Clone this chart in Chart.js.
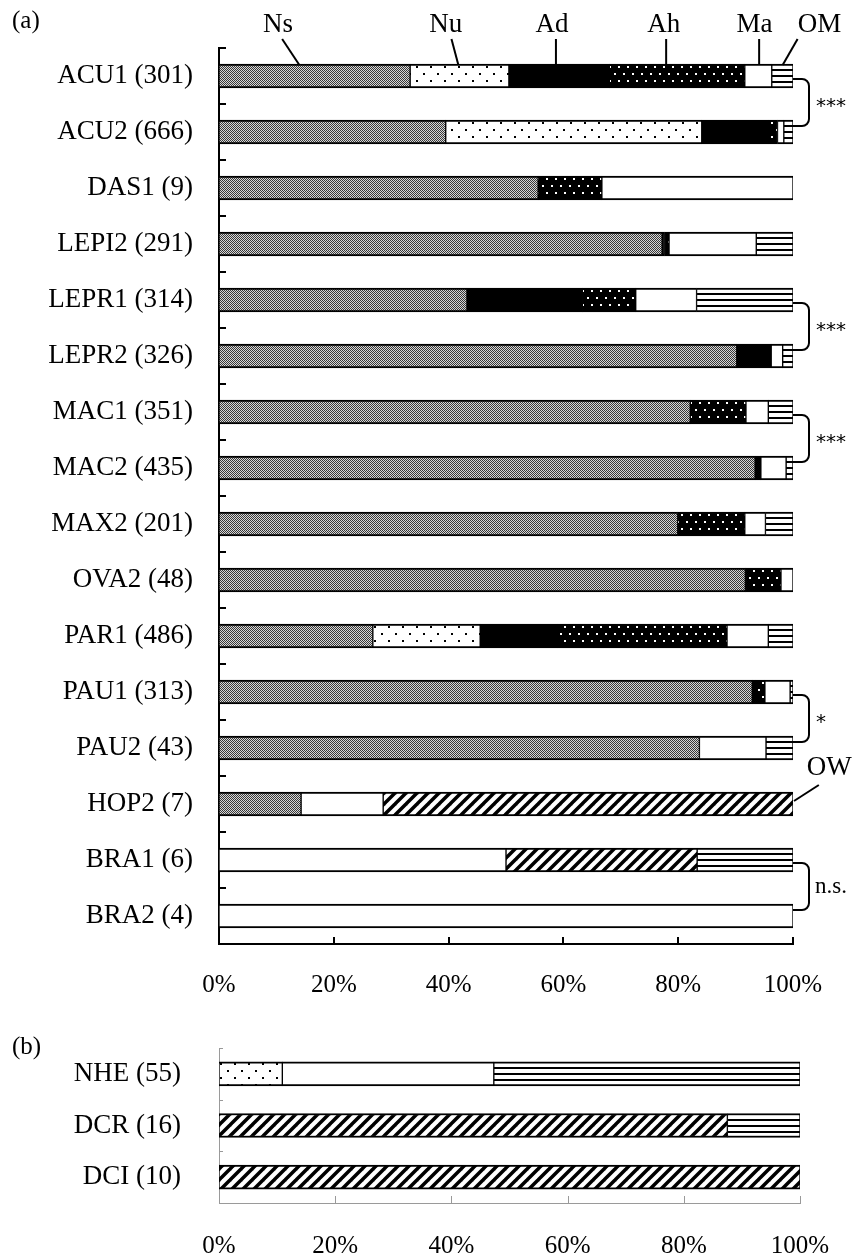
<!DOCTYPE html>
<html>
<head>
<meta charset="utf-8">
<script src="https://cdn.jsdelivr.net/npm/chart.js@4.4.1/dist/chart.umd.min.js"></script>
<style>
body{margin:0;background:#fff;}
#wrap{position:relative;width:858px;height:1260px;overflow:hidden;}
#chartA{position:absolute;left:0;top:0;}
#chartB{position:absolute;left:0;top:1025px;}
</style>
</head>
<body>
<div id="wrap">
<canvas id="chartA" width="858" height="1015"></canvas>
<canvas id="chartB" width="858" height="235"></canvas>
</div>
<script>
// ---- data (a) ----
const cats_a = ['ACU1 (301)','ACU2 (666)','DAS1 (9)','LEPI2 (291)','LEPR1 (314)','LEPR2 (326)',
                'MAC1 (351)','MAC2 (435)','MAX2 (201)','OVA2 (48)','PAR1 (486)','PAU1 (313)',
                'PAU2 (43)','HOP2 (7)','BRA1 (6)','BRA2 (4)'];
const ns_a = [33.3, 39.5, 55.6, 77.2, 43.2, 90.2, 82.1, 93.4, 79.9, 91.7, 26.8, 92.9, 83.7, 14.3, 0, 0];
const nu_a = [17.2, 44.6, 0, 0, 0, 0, 0, 0, 0, 0, 18.7, 0, 0, 0, 0, 0];
const ad_a = [17.5, 11.7, 0, 0.4, 20.1, 6.0, 0, 1.0, 0, 0, 13.4, 0.5, 0, 0, 0, 0];
const ah_a = [23.6, 1.5, 11.1, 0.8, 9.3, 0, 9.7, 0, 11.7, 6.2, 29.6, 1.7, 0, 0, 0, 0];
const ma_a = [4.7, 1.1, 33.3, 15.2, 10.6, 2.0, 3.9, 4.4, 3.6, 2.1, 7.2, 4.4, 11.6, 14.3, 50, 100];
const ow_a = [0, 0, 0, 0, 0, 0, 0, 0, 0, 0, 0, 0, 0, 71.4, 33.3, 0];
const om_a = [3.7, 1.6, 0, 6.4, 16.8, 1.8, 4.3, 1.2, 4.8, 0, 4.3, 0.5, 4.7, 0, 16.7, 0];

// ---- data (b) ----
const cats_b = ['NHE (55)','DCR (16)','DCI (10)'];
const ns_b = [0, 0, 0];
const nu_b = [10.9, 0, 0];
const ad_b = [0, 0, 0];
const ah_b = [0, 0, 0];
const ma_b = [36.4, 0, 0];
const ow_b = [0, 87.5, 100];
const om_b = [52.7, 12.5, 0];

const series_names = ['Ns','Nu','Ad','Ah','Ma','OW','OM'];
const x_ticks = [0, 20, 40, 60, 80, 100];
// significance between pairs of rows in (a)
const sig_pairs = [[0, 1, '***'], [4, 5, '***'], [6, 7, '***'], [11, 12, '*'], [14, 15, 'n.s.']];

const SERIF = "'Liberation Serif', 'Times New Roman', serif";
const BAR_H = 24;

// ---- fill patterns ----
function makeTile(w, h, draw) {
    const c = document.createElement('canvas');
    c.width = w; c.height = h;
    draw(c.getContext('2d'), w, h);
    return c;
}
function pattern(tile) {
    return tile.getContext('2d').createPattern(tile, 'repeat');
}
const nsTile = makeTile(2, 2, (g) => {
    g.fillStyle = '#d6d6d6'; g.fillRect(0, 0, 2, 2);
    g.fillStyle = '#383838'; g.fillRect(0, 0, 1, 1); g.fillRect(1, 1, 1, 1);
});
const nuTile = makeTile(14, 14, (g) => {
    g.fillStyle = '#fff'; g.fillRect(0, 0, 14, 14);
    g.fillStyle = '#000'; g.fillRect(3, 3, 2, 2); g.fillRect(10, 10, 2, 2);
});
const ahTile = makeTile(9, 14, (g) => {
    g.fillStyle = '#000'; g.fillRect(0, 0, 9, 14);
    g.fillStyle = '#fff'; g.fillRect(2, 3, 2, 2); g.fillRect(6, 10, 2, 2);
});
const owTile = makeTile(11, 11, (g) => {
    g.fillStyle = '#fff'; g.fillRect(0, 0, 11, 11);
    g.strokeStyle = '#000'; g.lineWidth = 3.5;
    [-11, 0, 11].forEach(o => {
        g.beginPath(); g.moveTo(o - 1, 12); g.lineTo(o + 12, -1); g.stroke();
    });
});
const omTile = makeTile(4, 6, (g) => {
    g.fillStyle = '#fff'; g.fillRect(0, 0, 4, 6);
    g.fillStyle = '#000'; g.fillRect(0, 0, 4, 2);
});
// horizontal lines lined up with each bar's top edge
function omFill(c) {
    const p = c.chart.ctx.createPattern(omTile, 'repeat');
    const ys = c.chart.scales && c.chart.scales.y;
    if (ys && c.dataIndex !== undefined) {
        const top = ys.getPixelForValue(c.dataIndex) - BAR_H / 2;
        p.setTransform(new DOMMatrix([1, 0, 0, 1, 0, Math.round(top) + 5]));
    }
    return p;
}
const fills = {
    Ns: pattern(nsTile), Nu: pattern(nuTile), Ad: '#000', Ah: pattern(ahTile),
    Ma: '#fff', OW: pattern(owTile), OM: omFill
};

function buildDatasets(arrays) {
    return series_names.map((name, i) => ({
        label: name,
        data: arrays[i].map(v => (v === 0 ? null : v)),
        backgroundColor: fills[name],
        borderColor: '#000',
        borderWidth: {top: 2, bottom: 2, left: 1, right: 1},
        borderSkipped: false,
        barThickness: BAR_H
    }));
}

function line(ctx, x1, y1, x2, y2) {
    ctx.beginPath(); ctx.moveTo(x1, y1); ctx.lineTo(x2, y2); ctx.stroke();
}

// ---- annotations for (a) ----
const annotateA = {
    id: 'annotateA',
    afterDraw(chart) {
        const ctx = chart.ctx, x = chart.scales.x, y = chart.scales.y;
        ctx.save();
        ctx.strokeStyle = '#000'; ctx.fillStyle = '#000'; ctx.lineWidth = 2;
        // inward ticks
        for (let k = 0; k <= cats_a.length; k++) {
            const py = Math.round(y.getPixelForValue(k - 0.5));
            line(ctx, x.left, py, x.left + 7, py);
        }
        x_ticks.forEach(v => {
            const px = Math.round(x.getPixelForValue(v));
            line(ctx, px, y.bottom, px, y.bottom - 7);
        });
        ctx.font = '25px ' + SERIF;
        ctx.textAlign = 'left'; ctx.textBaseline = 'middle';
        ctx.fillText('(a)', 12, 21);

        // series labels with leader lines to the first bar
        // [label x %, line top x %, line bottom x %]
        const lead = {Ns: [10.3, 11.0, 14.0], Nu: [39.5, 40.5, 41.7], Ad: [58.0, 58.7, 58.7],
                      Ah: [77.5, 77.9, 77.9], Ma: [93.3, 94.1, 94.1], OM: [104.6, 100.8, 98.2]};
        ctx.font = '27px ' + SERIF; ctx.textAlign = 'center';
        const barTop = y.getPixelForValue(0) - BAR_H / 2;
        Object.keys(lead).forEach(name => {
            const [lx, t, b] = lead[name];
            ctx.fillText(name, x.getPixelForValue(lx), 25);
            line(ctx, x.getPixelForValue(t), 39, x.getPixelForValue(b), barTop + 1);
        });
        // OW label at HOP2
        const hop = y.getPixelForValue(13);
        ctx.fillText('OW', x.getPixelForValue(106.3), hop - 36);
        line(ctx, x.getPixelForValue(104.5), hop - 19, x.right + 1, hop - 3);

        // significance brackets
        const xe = x.getPixelForValue(100), xb = xe + 16;
        sig_pairs.forEach(([a, b, txt]) => {
            const y1 = y.getPixelForValue(a) + 3, y2 = y.getPixelForValue(b) - 6;
            ctx.beginPath();
            ctx.moveTo(xe, y1);
            ctx.arcTo(xb, y1, xb, y2, 7);
            ctx.arcTo(xb, y2, xe, y2, 7);
            ctx.lineTo(xe, y2);
            ctx.stroke();
            const ym = (y1 + y2) / 2;
            ctx.textAlign = 'left';
            if (txt === 'n.s.') {
                ctx.font = '23px ' + SERIF;
                ctx.fillText(txt, xb + 6, ym);
            } else {
                ctx.font = "20px 'DejaVu Sans'";
                ctx.fillText(txt, xb + 7, ym + 4);
            }
        });
        ctx.restore();
    }
};

// ---- annotations for (b) ----
const annotateB = {
    id: 'annotateB',
    afterDraw(chart) {
        const ctx = chart.ctx, x = chart.scales.x, y = chart.scales.y;
        ctx.save();
        ctx.strokeStyle = '#999'; ctx.lineWidth = 1;
        for (let k = 0; k < cats_b.length; k++) {
            const py = Math.round(y.getPixelForValue(k - 0.5)) + 0.5;
            line(ctx, x.left, py, x.left + 4, py);
        }
        x_ticks.forEach(v => {
            const px = Math.round(x.getPixelForValue(v)) + 0.5;
            line(ctx, px, y.bottom, px, y.bottom - 7);
        });
        ctx.fillStyle = '#000';
        ctx.font = '25px ' + SERIF;
        ctx.textAlign = 'left'; ctx.textBaseline = 'middle';
        ctx.fillText('(b)', 12, 22);
        ctx.restore();
    }
};

function makeOptions(yWidth, xHeight, pad, yPad, xPad, axisColor, axisWidth) {
    return {
        indexAxis: 'y',
        responsive: false,
        animation: false,
        devicePixelRatio: 1,
        layout: {padding: pad},
        plugins: {legend: {display: false}, tooltip: {enabled: false}},
        scales: {
            x: {
                stacked: true, min: 0, max: 100,
                afterFit: (s) => { s.height = xHeight; s.paddingLeft = 0; s.paddingRight = 0; },
                afterBuildTicks: (s) => { s.ticks = x_ticks.map(v => ({value: v})); },
                ticks: {
                    color: '#000', padding: xPad, maxRotation: 0,
                    font: {family: SERIF, size: 25},
                    callback: (v) => v + '%'
                },
                grid: {display: false, drawTicks: false},
                border: {display: true, color: axisColor, width: axisWidth}
            },
            y: {
                stacked: true,
                afterFit: (s) => { s.width = yWidth; s.paddingTop = 0; s.paddingBottom = 0; },
                ticks: {color: '#000', padding: yPad, font: {family: SERIF, size: 27}},
                grid: {display: false, drawTicks: false},
                border: {display: true, color: axisColor, width: axisWidth}
            }
        }
    };
}

new Chart(document.getElementById('chartA'), {
    type: 'bar',
    data: {labels: cats_a, datasets: buildDatasets([ns_a, nu_a, ad_a, ah_a, ma_a, ow_a, om_a])},
    options: makeOptions(219, 71, {top: 48, right: 65, left: 0, bottom: 0}, 26, 26, '#000', 2),
    plugins: [annotateA]
});

new Chart(document.getElementById('chartB'), {
    type: 'bar',
    data: {labels: cats_b, datasets: buildDatasets([ns_b, nu_b, ad_b, ah_b, ma_b, ow_b, om_b])},
    options: makeOptions(219, 57, {top: 23, right: 58, left: 0, bottom: 0}, 38, 28, '#9a9a9a', 1),
    plugins: [annotateB]
});
</script>
</body>
</html>
